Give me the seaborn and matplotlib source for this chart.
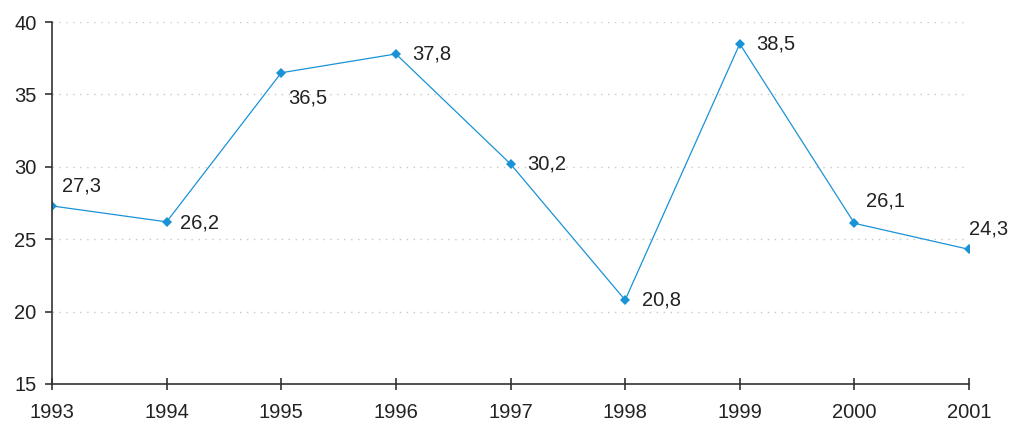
import pandas as pd
import seaborn as sb
import matplotlib.pyplot as plt

# данные с графика
years = [1993, 1994, 1995, 1996, 1997, 1998, 1999, 2000, 2001]
values = [27.3, 26.2, 36.5, 37.8, 30.2, 20.8, 38.5, 26.1, 24.3]
labels = ['27,3', '26,2', '36,5', '37,8', '30,2', '20,8', '38,5', '26,1', '24,3']

df = pd.DataFrame({'year': years, 'value': values})

sb.set_style('white')
plt.rcParams['font.family'] = ['Liberation Sans', 'DejaVu Sans']

fig = plt.figure(figsize=(10.13, 4.25), dpi=100)
ax = fig.add_axes([0.0513, 0.0965, 0.9053, 0.8515])

sb.lineplot(data=df, x='year', y='value', color='#1a93d6', linewidth=0.9,
            marker='D', markersize=5, markeredgewidth=0, ax=ax)

# подписи значений (смещения в пунктах)
offsets = [(7, 14), (10, -1), (5, -18), (12, 0), (12, 0), (12, 0), (12, 0), (8, 16), (0, 15)]
for x, y, t, off in zip(years, values, labels, offsets):
    ax.annotate(t, (x, y), xytext=off, textcoords='offset points',
                ha='left', va='center', fontsize=14.5, color='#222222')

ax.set_xlim(1993, 2001)
ax.set_ylim(15, 40)
ax.set_xticks(years)
ax.set_yticks([15, 20, 25, 30, 35, 40])
ax.set_xlabel('')
ax.set_ylabel('')
ax.grid(axis='y', color='#c8c8c8', linestyle=(0, (1, 4)), linewidth=1)
ax.grid(axis='x', visible=False)
for s in ['top', 'right']:
    ax.spines[s].set_visible(False)
for s in ['left', 'bottom']:
    ax.spines[s].set_color('#333333')
    ax.spines[s].set_linewidth(1.2)
ax.tick_params(axis='y', direction='out', length=5, width=1.2, color='#333333',
               labelsize=14.5, labelcolor='#222222', left=True, pad=6)
ax.tick_params(axis='x', direction='inout', length=9, width=1.2, color='#333333',
               labelsize=14.5, labelcolor='#222222', bottom=True, pad=9)
for lbl in ax.get_xticklabels() + ax.get_yticklabels():
    lbl.set_clip_on(False)

plt.savefig('out.png', dpi=100)
